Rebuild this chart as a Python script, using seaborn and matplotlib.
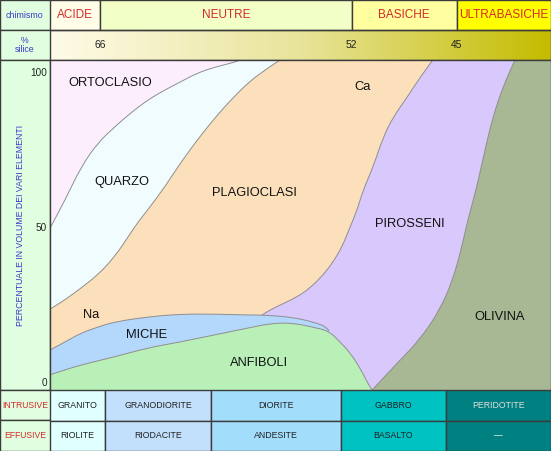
import numpy as np
import pandas as pd
import matplotlib
matplotlib.use("Agg")
import matplotlib.pyplot as plt
import seaborn as sns
from matplotlib.patches import Rectangle, PathPatch
from matplotlib.path import Path
from matplotlib.colors import LinearSegmentedColormap

sns.set_theme(style="white")
plt.rcParams['font.family'] = ['Liberation Sans', 'DejaVu Sans']

# x = posizione lungo il diagramma (0 = sinistra, 100 = destra), y = % in volume
# confine ortoclasio / quarzo
curva_a_x = [0, 3.0, 6.2, 9.5, 12.9, 16.1, 19.5, 22.9, 26.0, 29.4, 32.9, 36.9, 38.1]
curva_a_y = [49.5, 58.6, 69.3, 77.0, 82.2, 86.7, 90.9, 94.1, 96.7, 99.6, 101.5, 103.1, 103.8]
# confine quarzo / plagioclasi
curva_b_x = [0, 3.0, 6.2, 9.5, 12.9, 16.1, 17.9, 19.5, 22.9, 26.0, 29.4, 32.9, 36.1, 39.5, 42.8, 45.9]
curva_b_y = [23.4, 26.4, 30.2, 34.4, 40.2, 48.0, 52.2, 55.4, 62.8, 70.5, 78.0, 85.1, 90.9, 96.4, 100.5, 103.8]
# confine plagioclasi (e pirosseni) / miche
curva_c_x = [0, 3.0, 6.2, 9.5, 12.9, 19.5, 26.0, 32.9, 39.5, 42.3, 47.9, 52.5, 55.3, 55.7]
curva_c_y = [10.2, 12.8, 15.7, 17.6, 19.3, 20.9, 21.8, 21.8, 21.5, 21.5, 20.9, 19.3, 17.6, 16.3]
# confine miche / anfiboli e anfiboli / pirosseni
curva_d_x = [0, 3.0, 6.2, 12.9, 19.5, 26.0, 32.9, 39.5, 44.5, 48.5, 52.5, 55.7, 57.9, 59.9, 61.9, 63.9, 64.3]
curva_d_y = [2.2, 3.8, 5.4, 8.0, 10.9, 12.8, 15.1, 17.3, 18.9, 18.9, 17.6, 16.3, 12.8, 9.3, 4.4, -2.0, -2.7]
# confine plagioclasi / pirosseni
curva_e_x = [42.3, 43.9, 45.9, 49.3, 51.9, 54.5, 56.5, 58.3, 59.9, 61.3, 62.5, 64.5, 66.5, 68.5, 71.3, 73.9, 76.4]
curva_e_y = [21.5, 23.1, 24.7, 27.3, 30.2, 34.4, 38.6, 43.5, 49.9, 55.4, 61.8, 69.3, 78.9, 85.4, 91.8, 98.3, 103.8]
# confine pirosseni / olivina
curva_f_x = [92.8, 90.4, 88.4, 86.8, 85.2, 83.4, 82.2, 80.4, 77.8, 73.8, 69.3, 64.3]
curva_f_y = [103.8, 95.1, 85.4, 74.7, 62.8, 52.2, 43.5, 32.8, 23.1, 13.5, 6.0, -2.7]

chimismo = ["ACIDE", "NEUTRE", "BASICHE", "ULTRABASICHE"]
chimismo_lim = [0, 10.0, 60.2, 81.2, 100]
chimismo_col = ["#fffde8", "#f2ffc6", "#ffffa0", "#ffff00"]
silice_val = [66, 52, 45]
silice_pos = [10.0, 60.2, 81.2]

intrusive = ["GRANITO", "GRANODIORITE", "DIORITE", "GABBRO", "PERIDOTITE"]
effusive = ["RIOLITE", "RIODACITE", "ANDESITE", "BASALTO", "—"]
rocce_lim = [0, 11.0, 32.1, 58.0, 79.1, 100]
rocce_col = ["#e0ffff", "#c2e0fc", "#a2defc", "#00c2c2", "#008080"]
rocce_txt = ["#222222", "#222222", "#222222", "#222222", "#e0e0e0"]

minerali = ["ORTOCLASIO", "QUARZO", "PLAGIOCLASI", "Ca", "Na", "PIROSSENI", "MICHE", "ANFIBOLI", "OLIVINA"]
minerali_x = [12.0, 14.4, 40.9, 62.3, 8.2, 71.9, 19.2, 41.7, 89.8]
minerali_y = [96.3, 64.4, 60.9, 95.1, 21.5, 50.9, 15.1, 6.0, 20.9]

TOP, BOT = 103.8, -2.7
blu = "#3a3ac8"
rosso = "#d42a2a"
bordo = "#3c3c3c"


def tratto(xs, ys, liscio=True):
    # segmenti di path dal primo punto (escluso) all'ultimo; curve quadratiche tra i punti letti
    p = list(zip(xs, ys))
    if not liscio or len(p) < 3:
        return p[1:], [Path.LINETO] * (len(p) - 1)
    verts = [((p[0][0] + p[1][0]) / 2, (p[0][1] + p[1][1]) / 2)]
    codes = [Path.LINETO]
    for i in range(1, len(p) - 1):
        m = ((p[i][0] + p[i + 1][0]) / 2, (p[i][1] + p[i + 1][1]) / 2)
        if i == len(p) - 2:
            m = p[-1]
        verts += [p[i], m]
        codes += [Path.CURVE3, Path.CURVE3]
    return verts, codes


def regione(parti):
    verts = [(parti[0][0][0], parti[0][1][0])]
    codes = [Path.MOVETO]
    for xs, ys, liscio in parti:
        v, c = tratto(xs, ys, liscio)
        verts += v
        codes += c
    verts.append(verts[0])
    codes.append(Path.CLOSEPOLY)
    return Path(verts, codes)


def linea_path(xs, ys):
    v, c = tratto(xs, ys)
    return Path([(xs[0], ys[0])] + v, [Path.MOVETO] + c)


fig = plt.figure(figsize=(5.51, 4.51), dpi=100)

# colonna di sinistra (coordinate in pixel)
bg = fig.add_axes([0, 0, 1, 1])
bg.set_xlim(0, 551)
bg.set_ylim(451, 0)
bg.axis("off")
for y0, h in [(0, 30), (30, 30), (60, 330), (390, 30), (420, 31)]:
    bg.add_patch(Rectangle((0, y0), 50, h, facecolor="#e0ffe0", edgecolor=bordo, lw=1))
bg.text(25, 15, "chimismo", ha="center", va="center", fontsize=6.4, color=blu)
bg.text(25, 45, "%\nsilice", ha="center", va="center", fontsize=6.3, color=blu, linespacing=0.95)
bg.text(21, 225, "PERCENTUALE IN VOLUME DEI VARI ELEMENTI", ha="center", va="center",
        rotation=90, fontsize=6.3, color=blu)
bg.text(25, 405, "INTRUSIVE", ha="center", va="center", fontsize=6.2, color=rosso)
bg.text(25, 435.5, "EFFUSIVE", ha="center", va="center", fontsize=6.2, color=rosso)

# intestazione
hdr = fig.add_axes([50 / 551, 391 / 451, 501 / 551, 60 / 451])
hdr.set_xlim(0, 100)
hdr.set_ylim(0, 2)
hdr.axis("off")
for i, nome in enumerate(chimismo):
    x0, x1 = chimismo_lim[i], chimismo_lim[i + 1]
    hdr.add_patch(Rectangle((x0, 1), x1 - x0, 1, facecolor=chimismo_col[i], edgecolor=bordo, lw=1))
    hdr.text((x0 + x1) / 2, 1.5, nome, ha="center", va="center", fontsize=8.5, color=rosso)
grad = LinearSegmentedColormap.from_list("silice", ["#fffbe8", "#e8e49a", "#c4bc00"])
hdr.imshow(np.linspace(0, 1, 256)[None, :], cmap=grad, extent=(0, 100, 0, 1), aspect="auto", zorder=0)
hdr.add_patch(Rectangle((0, 0), 100, 1, facecolor="none", edgecolor=bordo, lw=1))
for v, p in zip(silice_val, silice_pos):
    hdr.text(p, 0.5, str(v), ha="center", va="center", fontsize=7.4, color="#222222")

# diagramma principale
ax = fig.add_axes([50 / 551, 61 / 451, 501 / 551, 330 / 451])
ax.set_xlim(0, 100)
ax.set_ylim(BOT, TOP)
ax.set_facecolor("#fdeefd")
linea = "#8e8e8e"

k = curva_d_x.index(curva_c_x[-1])
regioni = [
    ("#f0fcfe", [(curva_a_x, curva_a_y, True), ([curva_a_x[-1], 100, 100, 0], [TOP, TOP, BOT, BOT], False)]),
    ("#fce0bc", [(curva_b_x, curva_b_y, True), ([curva_b_x[-1], 100, 100, 0], [TOP, TOP, BOT, BOT], False)]),
    ("#d9c8fc", [(curva_e_x, curva_e_y, True), ([curva_e_x[-1], 100, 100, curva_e_x[0]], [TOP, TOP, BOT, BOT], False)]),
    ("#a8b894", [(curva_f_x, curva_f_y, True), ([curva_f_x[-1], 100, 100], [BOT, BOT, TOP], False)]),
    ("#b8f0b8", [(curva_d_x, curva_d_y, True), ([curva_d_x[-1], 0], [BOT, BOT], False)]),
    ("#b4d8fc", [(curva_c_x, curva_c_y, True), (curva_d_x[:k + 1][::-1], curva_d_y[:k + 1][::-1], True)]),
]
for colore, parti in regioni:
    ax.add_patch(PathPatch(regione(parti), facecolor=colore, edgecolor="none", lw=0))

for cx, cy in [(curva_a_x, curva_a_y), (curva_b_x, curva_b_y), (curva_c_x, curva_c_y),
               (curva_d_x, curva_d_y), (curva_e_x, curva_e_y), (curva_f_x, curva_f_y)]:
    ax.add_patch(PathPatch(linea_path(cx, cy), facecolor="none", edgecolor=linea, lw=0.7))

for nome, x, y in zip(minerali, minerali_x, minerali_y):
    ax.text(x, y, nome, ha="center", va="center", fontsize=9.3, color="#111111")

ax.set_xticks([])
ax.set_yticks([0, 50, 100])
ax.set_yticklabels(["0", "50", "100"], fontsize=7.2, color="#222222")
ax.tick_params(axis="y", length=0, pad=2)
for s in ax.spines.values():
    s.set_color(bordo)
    s.set_linewidth(1)

# tabella rocce
tab = fig.add_axes([50 / 551, 0, 501 / 551, 61 / 451])
tab.set_xlim(0, 100)
tab.set_ylim(0, 2)
tab.axis("off")
for i in range(len(intrusive)):
    x0, x1 = rocce_lim[i], rocce_lim[i + 1]
    for riga, testo in [(1, intrusive[i]), (0, effusive[i])]:
        tab.add_patch(Rectangle((x0, riga), x1 - x0, 1, facecolor=rocce_col[i], edgecolor=bordo, lw=1))
        col = "white" if testo == "—" else rocce_txt[i]
        tab.text((x0 + x1) / 2, riga + 0.5, testo, ha="center", va="center", fontsize=6.3, color=col)

fig.savefig("out.png", dpi=100)
